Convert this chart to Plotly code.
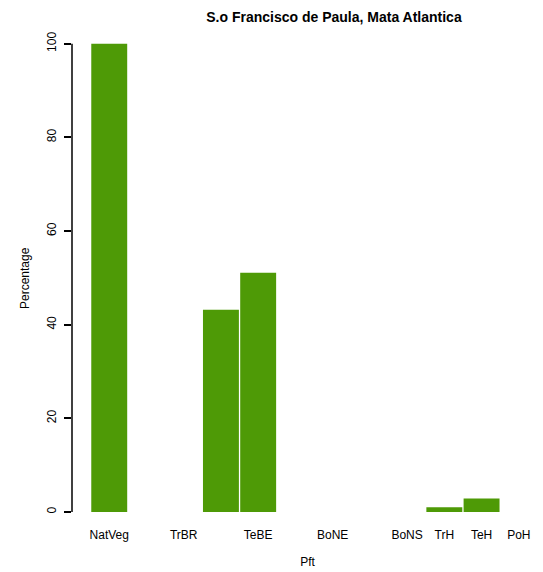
import plotly.graph_objects as go

categories = ["NatVeg", "TrBE", "TrBR", "TeNE", "TeBE", "TeBS",
              "BoNE", "BoBS", "BoNS", "TrH", "TeH", "PoH"]
percentages = [100.0, 0.0, 0.0, 43.2, 51.1, 0.0,
               0.0, 0.0, 0.0, 1.0, 2.9, 0.0]
shown_labels = ["NatVeg", "TrBR", "TeBE", "BoNE", "BoNS", "TrH", "TeH", "PoH"]
y_ticks = [0, 20, 40, 60, 80, 100]

font = "Liberation Sans, Arial, Helvetica, sans-serif"
W, H = 543, 572

fig = go.Figure(go.Bar(x=categories, y=percentages, marker_color="#4e9a06",
                       marker_line_width=0))

fig.update_layout(
    width=W, height=H,
    margin=dict(l=72, r=0, t=25, b=60),
    paper_bgcolor="white", plot_bgcolor="white",
    bargap=0.035,
    showlegend=False,
    font=dict(family=font, size=12, color="black"),
    title=dict(text="S.o Francisco de Paula, Mata Atlantica",
               font=dict(family=font, size=14, color="black", weight="bold"),
               x=302/W, xanchor="center", xref="paper", y=1-17/H, yanchor="middle",
               yref="container"),
)

fig.update_xaxes(
    type="category", range=[-1.0, 11.65],
    tickmode="array", tickvals=shown_labels, ticktext=shown_labels,
    ticks="outside", ticklen=12, tickcolor="rgba(0,0,0,0)",
    showline=False, showgrid=False, zeroline=False,
    tickfont=dict(size=12),
    title=dict(text="Pft", font=dict(size=12), standoff=16),
)

fig.update_yaxes(
    range=[0, 104],
    tickmode="array", tickvals=y_ticks, ticktext=[str(v) for v in y_ticks],
    ticks="outside", ticklen=7, tickwidth=1.5, tickcolor="black",
    tickangle=-90, ticklabelstandoff=3,
    showline=False, showgrid=False, zeroline=False,
    tickfont=dict(size=12),
)

# y-axis title, centred on the full plotting region like R
plot_w = W - 72
fig.add_annotation(text="Percentage", textangle=-90, showarrow=False,
                   xref="paper", yref="paper",
                   x=(25 - 72) / plot_w, y=(H - 60 - 278) / (H - 60 - 25),
                   xanchor="center", yanchor="middle", font=dict(size=12))

fig.add_shape(type="line", xref="paper", yref="y", x0=0, x1=0, y0=0, y1=100,
              line=dict(color="black", width=1.5))

fig.write_html("out.html")
